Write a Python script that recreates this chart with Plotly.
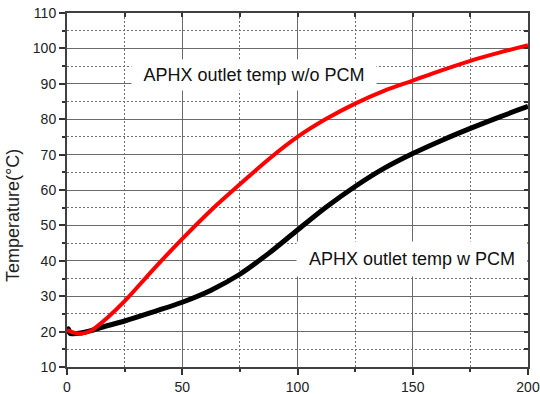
import plotly.graph_objects as go

# Data
red_x = [0, 3, 6, 10, 12.5, 18, 25, 37.5, 50, 62.5, 75, 87.5, 100, 112.5, 125, 137.5, 150, 162.5, 175, 187.5, 200]
red_y = [20.4, 19.7, 19.4, 20.1, 21.2, 24.2, 28.6, 37.6, 46.2, 54.3, 61.6, 68.7, 75.0, 80.1, 84.4, 88.0, 90.9, 93.8, 96.5, 98.8, 100.9]

black_x = [0, 0.6, 1.3, 2.5, 6, 10, 15, 25, 37.5, 50, 62.5, 75, 87.5, 100, 112.5, 125, 137.5, 150, 162.5, 175, 187.5, 200]
black_y = [19.4, 20.8, 19.5, 19.4, 19.6, 20.2, 21.2, 23.0, 25.6, 28.3, 31.7, 36.2, 42.1, 48.7, 55.2, 61.0, 66.1, 70.3, 74.0, 77.4, 80.6, 83.6]

label_wo = "APHX outlet temp w/o PCM"
label_w = "APHX outlet temp w PCM"
y_title = "Temperature(°C)"

FONT = "Liberation Sans, Arial, sans-serif"

fig = go.Figure()
fig.add_trace(go.Scatter(x=black_x, y=black_y, mode="lines",
                         line=dict(color="#000000", width=5, shape="spline", smoothing=0.9),
                         showlegend=False, hoverinfo="skip"))
fig.add_trace(go.Scatter(x=red_x, y=red_y, mode="lines",
                         line=dict(color="#ff0000", width=4, shape="spline", smoothing=1.0),
                         showlegend=False, hoverinfo="skip"))
# invisible trace to activate mirrored top/right axes
fig.add_trace(go.Scatter(x=red_x, y=red_y, mode="lines", xaxis="x2", yaxis="y2",
                         line=dict(width=0), opacity=0, showlegend=False, hoverinfo="skip"))

axis_common = dict(showline=True, linecolor="#404040", linewidth=2, automargin=False,
                   tickcolor="#333333", tickwidth=1.5, zeroline=False)

fig.update_layout(
    width=540, height=394,
    margin=dict(l=67, r=12, t=13, b=27),
    paper_bgcolor="white", plot_bgcolor="white",
    font=dict(family=FONT, size=14, color="#222222"),
    xaxis=dict(range=[0, 200], dtick=50, tick0=0, ticks="outside", ticklen=6,
               showgrid=True, gridcolor="#6a6a6a", gridwidth=1,
               minor=dict(dtick=25, tick0=0, ticks="outside", ticklen=3, tickcolor="#333333",
                          showgrid=True, gridcolor="#707070", griddash="2px,2px", gridwidth=1),
               tickfont=dict(size=14), **axis_common),
    yaxis=dict(range=[10, 110], dtick=10, tick0=10, ticks="outside", ticklen=6,
               showgrid=True, gridcolor="#6a6a6a", gridwidth=1,
               minor=dict(dtick=5, tick0=10, ticks="outside", ticklen=3, tickcolor="#333333",
                          showgrid=True, gridcolor="#707070", griddash="2px,2px", gridwidth=1),
               tickfont=dict(size=14), **axis_common),
    xaxis2=dict(range=[0, 200], overlaying="x", side="top", dtick=25, tick0=0,
                ticks="inside", ticklen=4, showticklabels=False, showgrid=False,
                **axis_common),
    yaxis2=dict(range=[10, 110], overlaying="y", side="right", dtick=5, tick0=10,
                ticks="inside", ticklen=4, showticklabels=False, showgrid=False,
                **axis_common),
    annotations=[
        dict(text=label_wo, xref="paper", yref="paper", x=0.4067, y=0.8249,
             xanchor="center", yanchor="middle", showarrow=False,
             bgcolor="white", borderpad=0, width=244, height=30,
             font=dict(family=FONT, size=18, color="#111111")),
        dict(text=label_w, xref="paper", yref="paper", x=0.7484, y=0.3051,
             xanchor="center", yanchor="middle", showarrow=False,
             bgcolor="white", borderpad=0, width=230, height=34,
             font=dict(family=FONT, size=18, color="#111111")),
        dict(text=y_title, xref="paper", yref="paper", x=-0.117, y=0.4266,
             xanchor="center", yanchor="middle", showarrow=False, textangle=-90,
             font=dict(family=FONT, size=18, color="#222222")),
    ],
)

fig.write_html(
    "out.html",
    config={"displayModeBar": False},
    post_script="document.body.style.margin='0';document.body.style.overflow='hidden';",
)
